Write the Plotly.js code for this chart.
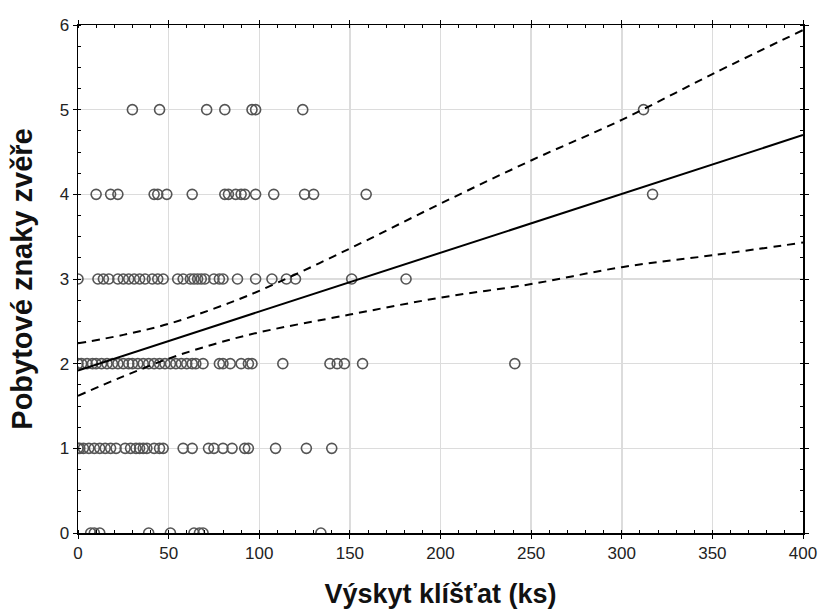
<!DOCTYPE html>
<html>
<head>
<meta charset="utf-8">
<script src="https://cdn.plot.ly/plotly-3.0.1.min.js"></script>
<style>html,body{margin:0;padding:0;background:#fff;}#chart{width:824px;height:614px;}</style>
</head>
<body>
<div id="chart"></div>
<script>
// Observed points: x values (ticks count) for each level of "Pobytové znaky zvěře"
const levels = [0, 1, 2, 3, 4, 5];
const xAt0 = [7, 9, 12, 39, 51, 64, 67, 69, 134];
const xAt1 = [0, 1, 3, 6, 9, 12, 15, 18, 21, 26, 29, 32, 34, 36, 38, 42, 45, 47, 58, 63, 72, 75, 80, 85, 92, 94, 109, 126, 140];
const xAt2 = [0, 2, 5, 8, 10, 13, 16, 19, 22, 25, 28, 30, 33, 36, 39, 42, 45, 48, 51, 54, 57, 60, 63, 65, 69, 78, 80, 84, 90, 94, 96, 113, 139, 143, 147, 157, 241];
const xAt3 = [0, 11, 14, 17, 22, 25, 28, 31, 34, 37, 41, 44, 47, 55, 58, 62, 64, 66, 68, 70, 75, 78, 80, 88, 98, 107, 115, 120, 151, 181];
const xAt4 = [10, 18, 22, 42, 44, 49, 63, 81, 83, 87, 90, 92, 98, 108, 125, 130, 159, 317];
const xAt5 = [30, 45, 71, 81, 96, 98, 124, 312];

// Regression line and confidence band
const fitX = [0, 400];
const fitY = [1.92, 4.70];
const bandX = [0, 25, 50, 75, 100, 150, 200, 250, 300, 350, 400];
const bandUpper = [2.24, 2.34, 2.47, 2.65, 2.86, 3.36, 3.89, 4.40, 4.88, 5.42, 5.94];
const bandLower = [1.62, 1.85, 2.06, 2.23, 2.37, 2.58, 2.78, 2.94, 3.14, 3.28, 3.43];

const xTicks = [0, 50, 100, 150, 200, 250, 300, 350, 400];
const yTicks = [0, 1, 2, 3, 4, 5, 6];

const rows = [xAt0, xAt1, xAt2, xAt3, xAt4, xAt5];
const px = [], py = [];
rows.forEach((r, i) => r.forEach(v => { px.push(v); py.push(levels[i]); }));

const traces = [
  {x: px, y: py, type: 'scatter', mode: 'markers',
   marker: {symbol: 'circle-open', size: 10, color: '#555555', line: {width: 1.6, color: '#555555'}},
   cliponaxis: true, hoverinfo: 'x+y'},
  {x: fitX, y: fitY, type: 'scatter', mode: 'lines', line: {color: '#000', width: 2}},
  {x: bandX, y: bandUpper, type: 'scatter', mode: 'lines', line: {color: '#000', width: 2, dash: '8px,6px', shape: 'spline'}},
  {x: bandX, y: bandLower, type: 'scatter', mode: 'lines', line: {color: '#000', width: 2, dash: '8px,6px', shape: 'spline'}}
];

const tickFont = {family: 'Liberation Sans, Arial, sans-serif', size: 17, color: '#222'};
const layout = {
  width: 824, height: 614,
  margin: {l: 78, r: 21, t: 25, b: 81},
  showlegend: false,
  paper_bgcolor: '#fff', plot_bgcolor: '#fff',
  xaxis: {
    range: [0, 400], tickvals: xTicks, ticktext: xTicks.map(String),
    showgrid: true, gridcolor: '#dcdcdc', gridwidth: 1.5,
    zeroline: false, showline: true, linecolor: '#000', linewidth: 1.5, mirror: 'allticks',
    ticks: 'outside', ticklen: 4, tickcolor: '#000', tickfont: tickFont,
    minor: {dtick: 10, ticks: 'inside', ticklen: 3, tickcolor: '#000', showgrid: false},
    title: {text: 'Výskyt klíšťat (ks)', font: {family: 'Liberation Sans, Arial, sans-serif', size: 27, color: '#111', weight: 'bold'}, standoff: 22}
  },
  yaxis: {
    range: [0, 6], tickvals: yTicks, ticktext: yTicks.map(String),
    showgrid: true, gridcolor: '#dcdcdc', gridwidth: 1.5,
    zeroline: false, showline: true, linecolor: '#000', linewidth: 1.5, mirror: 'allticks',
    ticks: 'outside', ticklen: 4, tickcolor: '#000', tickfont: tickFont,
    minor: {dtick: 0.25, ticks: 'inside', ticklen: 3, tickcolor: '#000', showgrid: false},
    title: {text: 'Pobytové znaky zvěře', font: {family: 'Liberation Sans, Arial, sans-serif', size: 29, color: '#111', weight: 'bold'}, standoff: 18}
  }
};

Plotly.newPlot('chart', traces, layout, {displayModeBar: false, staticPlot: true});
</script>
</body>
</html>
